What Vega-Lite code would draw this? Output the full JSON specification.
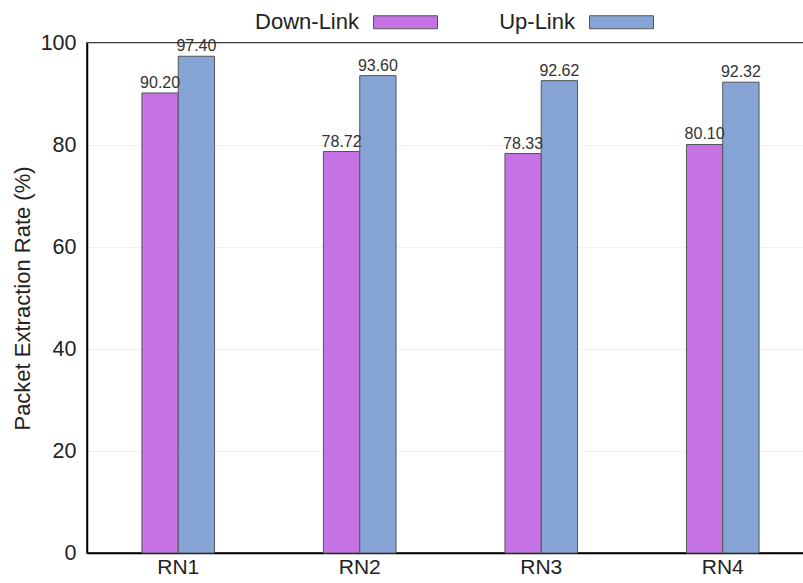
{
  "$schema": "https://vega.github.io/schema/vega-lite/v6.json",
  "autosize": "none",
  "width": 717,
  "height": 510,
  "padding": {"left": 87, "top": 43, "right": 0, "bottom": 30},
  "background": "white",
  "config": {
    "font": "Liberation Sans",
    "view": {"stroke": "#000", "strokeWidth": 1.5}
  },
  "data": {
    "values": [
      {"node": "RN1", "link": "Down-Link", "rate": 90.20, "label": "90.20"},
      {"node": "RN1", "link": "Up-Link", "rate": 97.40, "label": "97.40"},
      {"node": "RN2", "link": "Down-Link", "rate": 78.72, "label": "78.72"},
      {"node": "RN2", "link": "Up-Link", "rate": 93.60, "label": "93.60"},
      {"node": "RN3", "link": "Down-Link", "rate": 78.33, "label": "78.33"},
      {"node": "RN3", "link": "Up-Link", "rate": 92.62, "label": "92.62"},
      {"node": "RN4", "link": "Down-Link", "rate": 80.10, "label": "80.10"},
      {"node": "RN4", "link": "Up-Link", "rate": 92.32, "label": "92.32"}
    ]
  },
  "encoding": {
    "x": {
      "field": "node", "type": "nominal",
      "scale": {"paddingInner": 0.6, "paddingOuter": 0.2752, "align": 0.55},
      "axis": {"title": null, "labelAngle": 0, "labelFontSize": 21, "labelColor": "#222", "ticks": false, "labelPadding": 3, "domainColor": "#000", "domainWidth": 1.5}
    },
    "xOffset": {"field": "link", "type": "nominal", "scale": {"paddingInner": 0, "paddingOuter": 0}},
    "y": {
      "field": "rate", "type": "quantitative",
      "scale": {"domain": [0, 100]},
      "axis": {"title": "Packet Extraction Rate (%)", "titleFontSize": 22, "titleFontWeight": "normal", "titleColor": "#222", "titlePadding": 6, "values": [0, 20, 40, 60, 80, 100], "labelFontSize": 21.5, "labelColor": "#222", "ticks": false, "labelPadding": 11, "gridColor": "#eeeeee", "gridWidth": 0.8, "domainColor": "#000", "domainWidth": 1.5}
    }
  },
  "layer": [
    {
      "mark": {"type": "bar", "stroke": "#555", "strokeWidth": 1},
      "encoding": {
        "color": {
          "field": "link", "type": "nominal",
          "scale": {"domain": ["Down-Link", "Up-Link"], "range": ["#c472e4", "#86a4d6"]},
          "legend": {
            "title": null, "orient": "none", "direction": "horizontal",
            "legendX": 286, "legendY": -53.5,
            "symbolType": "M-1,-0.203L1,-0.203L1,0.203L-1,0.203Z",
            "symbolSize": 4096, "symbolStrokeColor": "#555", "symbolStrokeWidth": 1, "symbolOpacity": 1,
            "labelAlign": "right", "labelOffset": -79,
            "labelFontSize": 22, "labelColor": "#222",
            "columnPadding": 59
          }
        }
      }
    },
    {
      "mark": {"type": "text", "baseline": "bottom", "dy": -2, "fontSize": 16, "color": "#333"},
      "encoding": {"text": {"field": "label"}}
    }
  ]
}
